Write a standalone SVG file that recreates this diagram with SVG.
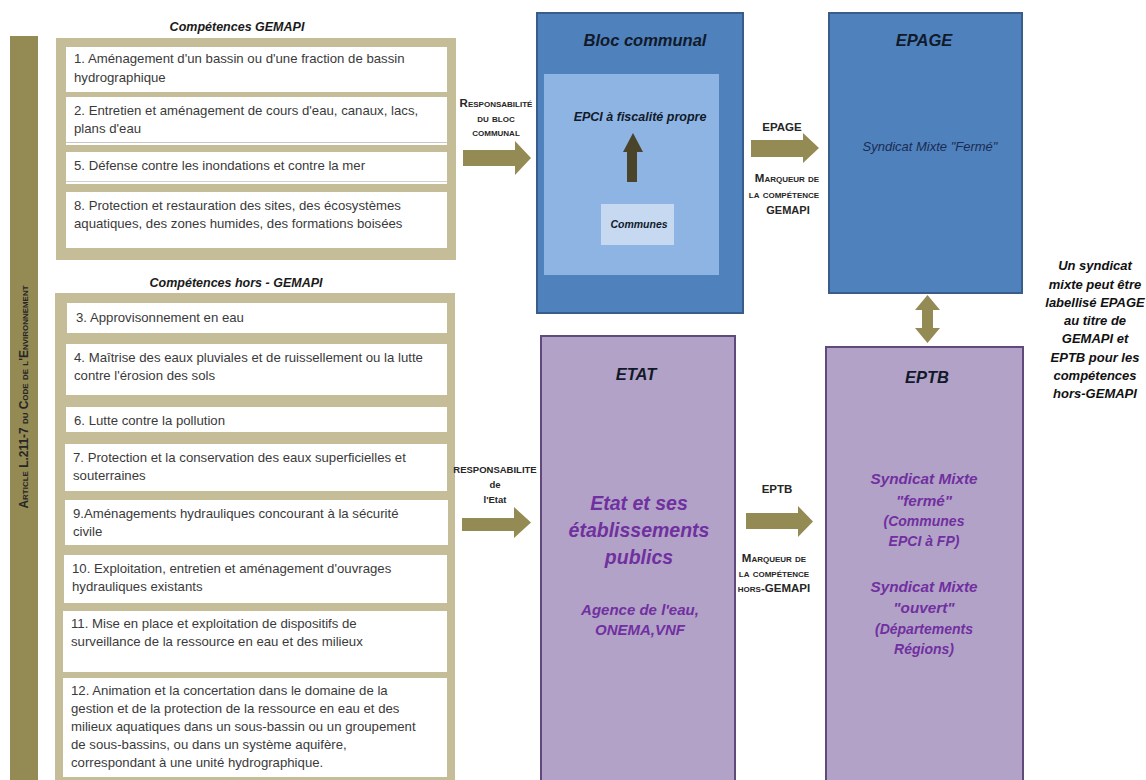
<svg xmlns="http://www.w3.org/2000/svg" width="1146" height="780" viewBox="0 0 1146 780">
<style>
text{font-family:"Liberation Sans","Open Sans",sans-serif}
.panel{fill:#c4bd97}
.item{fill:#ffffff}
.it{font-size:13.2px;fill:#3a3a3a}
.ttl{font-size:12.5px;font-weight:bold;font-style:italic;fill:#1a1a1a;text-anchor:middle}
.sc{font-size:11.5px;font-weight:bold;font-variant:small-caps;fill:#262626;text-anchor:middle}
.cap{font-size:9.5px;font-weight:bold;fill:#262626;text-anchor:middle}
.blue{fill:#4f81bd;stroke:#385d8a;stroke-width:2}
.purple{fill:#b3a2c7;stroke:#604a7b;stroke-width:2}
.h{font-size:16.5px;font-weight:bold;font-style:italic;fill:#111a2a;text-anchor:middle}
.pt{font-weight:bold;font-style:italic;fill:#7030a0;text-anchor:middle}
.arr{fill:#948a54}
.side{font-size:13px;font-weight:bold;font-style:italic;fill:#111111;text-anchor:middle}
</style>

<g id="article-bar">
<rect x="10" y="36" width="28" height="744" fill="#948a54"/>
<text transform="translate(28,397) rotate(-90)" text-anchor="middle" font-size="12px" font-weight="bold" font-variant="small-caps" fill="#262626" textLength="223" lengthAdjust="spacingAndGlyphs">Article L.211-7 du Code de l'Environnement</text>
</g>

<g id="gemapi">
<text class="ttl" x="237" y="31">Compétences  GEMAPI</text>
<rect class="panel" x="56" y="38" width="400" height="222"/>
<rect class="item" x="66" y="47" width="381" height="45"/>
<text class="it" x="74" y="63">1. Aménagement  d'un bassin ou d'une fraction de bassin</text>
<text class="it" x="74" y="82">hydrographique</text>
<rect class="item" x="66" y="97" width="381" height="48"/>
<line x1="66" y1="142.5" x2="447" y2="142.5" stroke="#c8c8c8" stroke-width="1"/>
<text class="it" x="74" y="115">2. Entretien  et aménagement  de cours d'eau, canaux, lacs,</text>
<text class="it" x="74" y="133">plans d'eau</text>
<rect class="item" x="66" y="152" width="381" height="32"/>
<line x1="66" y1="181.5" x2="447" y2="181.5" stroke="#d0d0d0" stroke-width="1"/>
<text class="it" x="74" y="170">5. Défense  contre les inondations et contre la mer</text>
<rect class="item" x="66" y="192" width="381" height="56"/>
<text class="it" x="74" y="210">8. Protection et restauration des sites, des écosystèmes</text>
<text class="it" x="74" y="228">aquatiques, des zones humides, des formations boisées</text>
</g>

<g id="hors-gemapi">
<text class="ttl" x="236" y="287">Compétences  hors - GEMAPI</text>
<rect class="panel" x="55" y="293" width="400" height="487"/>
<rect class="item" x="67" y="303" width="380" height="30"/>
<text class="it" x="76" y="322">3. Approvisonnement en eau</text>
<rect class="item" x="66" y="344" width="381" height="51"/>
<text class="it" x="74" y="362">4. Maîtrise des eaux pluviales et de ruissellement ou la lutte</text>
<text class="it" x="74" y="380">contre l'érosion des sols</text>
<rect class="item" x="66" y="407" width="381" height="25"/>
<text class="it" x="74" y="425">6. Lutte contre la pollution</text>
<rect class="item" x="65" y="444" width="382" height="47"/>
<text class="it" x="73" y="462">7. Protection et la conservation  des eaux superficielles  et</text>
<text class="it" x="73" y="480">souterraines</text>
<rect class="item" x="65" y="500" width="383" height="45"/>
<text class="it" x="73" y="518">9.Aménagements  hydrauliques concourant à la sécurité</text>
<text class="it" x="73" y="536">civile</text>
<rect class="item" x="64" y="555" width="383" height="48"/>
<text class="it" x="72" y="573">10. Exploitation, entretien et aménagement  d'ouvrages</text>
<text class="it" x="72" y="591">hydrauliques existants</text>
<rect class="item" x="63" y="611" width="384" height="61"/>
<text class="it" x="71" y="628">11. Mise en place et exploitation  de dispositifs de</text>
<text class="it" x="71" y="646">surveillance  de la ressource  en eau et  des milieux</text>
<rect class="item" x="63" y="678" width="384" height="99"/>
<text class="it" x="71" y="695">12. Animation et la concertation dans le domaine de la</text>
<text class="it" x="71" y="713">gestion et de la protection de la ressource en eau et des</text>
<text class="it" x="71" y="731">milieux aquatiques dans un sous-bassin ou un groupement</text>
<text class="it" x="71" y="749">de sous-bassins, ou dans un système aquifère,</text>
<text class="it" x="71" y="767">correspondant à une unité hydrographique.</text>
</g>

<g id="bloc-communal">
<rect class="blue" x="537" y="13" width="206" height="300"/>
<text class="h" x="645" y="46" font-size="20px">Bloc communal</text>
<rect x="544" y="74" width="175" height="201" fill="#8eb4e3"/>
<text x="640" y="121" font-size="12.5px" font-weight="bold" font-style="italic" fill="#111a2a" text-anchor="middle">EPCI à fiscalité  propre</text>
<polygon points="627,182 637,182 637,152 643,152 633,133 623,152 627,152" fill="#4a452a"/>
<g id="communes">
<rect x="601" y="204" width="73" height="41" fill="#c6d9f1"/>
<text x="639" y="228" font-size="10.5px" font-weight="bold" font-style="italic" fill="#111a2a" text-anchor="middle">Communes</text>
</g>
</g>

<g id="epage">
<rect class="blue" x="829" y="13" width="193" height="280"/>
<text class="h" x="924" y="46">EPAGE</text>
<text x="930" y="151" font-size="13px" font-style="italic" fill="#1a2c52" text-anchor="middle">Syndicat Mixte  "Fermé"</text>
</g>

<g id="etat">
<rect class="purple" x="541" y="336" width="194" height="450"/>
<text class="h" x="636" y="380">ETAT</text>
<text class="pt" x="639" y="510" font-size="19.5px">Etat et ses</text>
<text class="pt" x="639" y="537" font-size="19.5px">établissements</text>
<text class="pt" x="639" y="564" font-size="19.5px">publics</text>
<text class="pt" x="640" y="615" font-size="15px">Agence de l'eau,</text>
<text class="pt" x="640" y="635" font-size="15px">ONEMA,VNF</text>
</g>

<g id="eptb">
<rect class="purple" x="826" y="347" width="197" height="440"/>
<text class="h" x="927" y="383">EPTB</text>
<text class="pt" x="924" y="484" font-size="15.3px">Syndicat Mixte</text>
<text class="pt" x="924" y="506" font-size="15.3px">"fermé"</text>
<text class="pt" x="924" y="526" font-size="14px">(Communes</text>
<text class="pt" x="924" y="546" font-size="14px">EPCI à FP)</text>
<text class="pt" x="924" y="592" font-size="15.3px">Syndicat Mixte</text>
<text class="pt" x="924" y="613" font-size="15.3px">"ouvert"</text>
<text class="pt" x="924" y="634" font-size="14px">(Départements</text>
<text class="pt" x="924" y="654" font-size="14px">Régions)</text>
</g>

<g id="side-note">
<text class="side" x="1095" y="270">Un syndicat</text>
<text class="side" x="1095" y="289">mixte  peut être</text>
<text class="side" x="1095" y="307">labellisé EPAGE</text>
<text class="side" x="1095" y="325">au titre de</text>
<text class="side" x="1095" y="343">GEMAPI et</text>
<text class="side" x="1095" y="362">EPTB pour les</text>
<text class="side" x="1095" y="380">compétences</text>
<text class="side" x="1095" y="398">hors-GEMAPI</text>
</g>

<g id="connectors">
<polygon class="arr" points="463,150 515,150 515,141 531,158 515,175 515,166 463,166"/>
<text class="sc" x="496" y="107" font-size="12px">Responsabilité</text>
<text class="sc" x="496" y="122">du bloc</text>
<text class="sc" x="496" y="136">communal</text>

<polygon class="arr" points="751,140 803,140 803,133 819,148 803,163 803,157 751,157"/>
<text x="782" y="131" font-size="11.5px" font-weight="bold" fill="#262626" text-anchor="middle">EPAGE</text>
<text class="sc" x="787" y="182">Marqueur de</text>
<text class="sc" x="784" y="198">la compétence</text>
<text x="788" y="214" font-size="11px" font-weight="bold" fill="#262626" text-anchor="middle">GEMAPI</text>

<polygon class="arr" points="922,310 922,328 915,328 927.5,343 940,328 933,328 933,310 940,310 927.5,295 915,310"/>

<polygon class="arr" points="462,518 514,518 514,507 531,522.5 514,538 514,531 462,531"/>
<text class="cap" x="495" y="473">RESPONSABILITE</text>
<text class="cap" x="495" y="488">de</text>
<text class="cap" x="495" y="503">l'Etat</text>

<polygon class="arr" points="746,513 798,513 798,506 813,521.5 798,537 798,529 746,529"/>
<text x="777" y="493" font-size="11.5px" font-weight="bold" fill="#262626" text-anchor="middle">EPTB</text>
<text class="sc" x="774" y="562" font-size="11px">Marqueur de</text>
<text class="sc" x="774" y="577" font-size="11px">la compétence</text>
<text class="sc" x="774" y="592" font-size="11px">hors-GEMAPI</text>
</g>
</svg>
